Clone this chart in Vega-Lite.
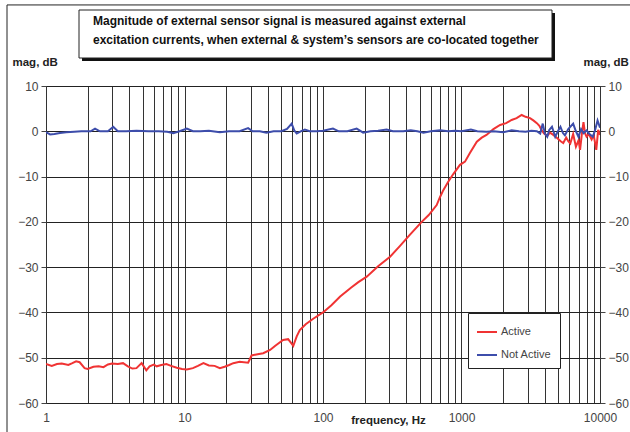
{
  "$schema": "https://vega.github.io/schema/vega-lite/v6.json",
  "width": 554,
  "height": 317,
  "autosize": "none",
  "padding": {"left": 46, "top": 86, "right": 30, "bottom": 29},
  "background": "white",
  "config": {
    "view": {"stroke": "#111", "strokeWidth": 1},
    "font": "Liberation Sans"
  },
  "datasets": {
    "curves": [
      {"f": 1, "db": -51.4, "series": "Active"},
      {"f": 1.1, "db": -51.8, "series": "Active"},
      {"f": 1.2, "db": -51.4, "series": "Active"},
      {"f": 1.3, "db": -51.3, "series": "Active"},
      {"f": 1.45, "db": -51.6, "series": "Active"},
      {"f": 1.55, "db": -51.2, "series": "Active"},
      {"f": 1.65, "db": -50.8, "series": "Active"},
      {"f": 1.75, "db": -51.0, "series": "Active"},
      {"f": 1.9, "db": -52.3, "series": "Active"},
      {"f": 2.0, "db": -52.5, "series": "Active"},
      {"f": 2.2, "db": -52.0, "series": "Active"},
      {"f": 2.4, "db": -51.9, "series": "Active"},
      {"f": 2.6, "db": -52.1, "series": "Active"},
      {"f": 2.8, "db": -51.5, "series": "Active"},
      {"f": 3.0, "db": -51.3, "series": "Active"},
      {"f": 3.3, "db": -51.4, "series": "Active"},
      {"f": 3.6, "db": -51.2, "series": "Active"},
      {"f": 3.9, "db": -51.9, "series": "Active"},
      {"f": 4.2, "db": -52.4, "series": "Active"},
      {"f": 4.5, "db": -52.3, "series": "Active"},
      {"f": 4.9, "db": -51.2, "series": "Active"},
      {"f": 5.3, "db": -52.8, "series": "Active"},
      {"f": 5.6, "db": -51.9, "series": "Active"},
      {"f": 6.0, "db": -51.5, "series": "Active"},
      {"f": 6.3, "db": -51.9, "series": "Active"},
      {"f": 6.8, "db": -51.6, "series": "Active"},
      {"f": 7.4, "db": -51.4, "series": "Active"},
      {"f": 8.0, "db": -51.8, "series": "Active"},
      {"f": 8.8, "db": -52.2, "series": "Active"},
      {"f": 9.6, "db": -52.5, "series": "Active"},
      {"f": 10.4, "db": -52.6, "series": "Active"},
      {"f": 11.5, "db": -52.3, "series": "Active"},
      {"f": 12.5, "db": -51.8, "series": "Active"},
      {"f": 13.7, "db": -51.2, "series": "Active"},
      {"f": 15, "db": -51.7, "series": "Active"},
      {"f": 16.5, "db": -51.8, "series": "Active"},
      {"f": 18, "db": -52.3, "series": "Active"},
      {"f": 19.5, "db": -52.0, "series": "Active"},
      {"f": 21, "db": -51.6, "series": "Active"},
      {"f": 22.5, "db": -51.2, "series": "Active"},
      {"f": 25, "db": -50.9, "series": "Active"},
      {"f": 28.8, "db": -51.1, "series": "Active"},
      {"f": 30.5, "db": -49.5, "series": "Active"},
      {"f": 33, "db": -49.3, "series": "Active"},
      {"f": 37, "db": -49.0, "series": "Active"},
      {"f": 41.5, "db": -48.3, "series": "Active"},
      {"f": 45, "db": -47.4, "series": "Active"},
      {"f": 51.5, "db": -46.1, "series": "Active"},
      {"f": 56, "db": -45.9, "series": "Active"},
      {"f": 59, "db": -46.8, "series": "Active"},
      {"f": 61, "db": -47.4, "series": "Active"},
      {"f": 64.6, "db": -45.3, "series": "Active"},
      {"f": 68, "db": -43.9, "series": "Active"},
      {"f": 75, "db": -42.6, "series": "Active"},
      {"f": 85, "db": -41.4, "series": "Active"},
      {"f": 100, "db": -40.0, "series": "Active"},
      {"f": 115, "db": -38.4, "series": "Active"},
      {"f": 133, "db": -36.5, "series": "Active"},
      {"f": 160, "db": -34.5, "series": "Active"},
      {"f": 180, "db": -33.3, "series": "Active"},
      {"f": 207, "db": -32.1, "series": "Active"},
      {"f": 250, "db": -29.8, "series": "Active"},
      {"f": 305, "db": -27.7, "series": "Active"},
      {"f": 360, "db": -25.3, "series": "Active"},
      {"f": 420, "db": -23.0, "series": "Active"},
      {"f": 516, "db": -20.0, "series": "Active"},
      {"f": 580, "db": -18.5, "series": "Active"},
      {"f": 662, "db": -16.3, "series": "Active"},
      {"f": 700, "db": -14.5, "series": "Active"},
      {"f": 739, "db": -13.0, "series": "Active"},
      {"f": 800, "db": -11.2, "series": "Active"},
      {"f": 870, "db": -9.5, "series": "Active"},
      {"f": 975, "db": -7.4, "series": "Active"},
      {"f": 1060, "db": -6.7, "series": "Active"},
      {"f": 1150, "db": -4.8, "series": "Active"},
      {"f": 1290, "db": -2.3, "series": "Active"},
      {"f": 1400, "db": -1.4, "series": "Active"},
      {"f": 1515, "db": -0.8, "series": "Active"},
      {"f": 1700, "db": 0.5, "series": "Active"},
      {"f": 1900, "db": 1.4, "series": "Active"},
      {"f": 2100, "db": 1.8, "series": "Active"},
      {"f": 2300, "db": 2.5, "series": "Active"},
      {"f": 2500, "db": 2.9, "series": "Active"},
      {"f": 2720, "db": 3.6, "series": "Active"},
      {"f": 2900, "db": 3.2, "series": "Active"},
      {"f": 3125, "db": 2.9, "series": "Active"},
      {"f": 3300, "db": 2.4, "series": "Active"},
      {"f": 3500, "db": 1.8, "series": "Active"},
      {"f": 3650, "db": 1.2, "series": "Active"},
      {"f": 3800, "db": 0.2, "series": "Active"},
      {"f": 3950, "db": -0.5, "series": "Active"},
      {"f": 4160, "db": -1.0, "series": "Active"},
      {"f": 4350, "db": -0.3, "series": "Active"},
      {"f": 4600, "db": -0.8, "series": "Active"},
      {"f": 4900, "db": -1.5, "series": "Active"},
      {"f": 5200, "db": -2.2, "series": "Active"},
      {"f": 5430, "db": -2.6, "series": "Active"},
      {"f": 5700, "db": -1.4, "series": "Active"},
      {"f": 5900, "db": -2.2, "series": "Active"},
      {"f": 6100, "db": -2.7, "series": "Active"},
      {"f": 6400, "db": -0.6, "series": "Active"},
      {"f": 6700, "db": -3.4, "series": "Active"},
      {"f": 7000, "db": -2.0, "series": "Active"},
      {"f": 7180, "db": -4.1, "series": "Active"},
      {"f": 7400, "db": -0.5, "series": "Active"},
      {"f": 7600, "db": 2.0, "series": "Active"},
      {"f": 7800, "db": -0.5, "series": "Active"},
      {"f": 8000, "db": -1.2, "series": "Active"},
      {"f": 8300, "db": -0.6, "series": "Active"},
      {"f": 8700, "db": -1.8, "series": "Active"},
      {"f": 9000, "db": -0.8, "series": "Active"},
      {"f": 9400, "db": -4.1, "series": "Active"},
      {"f": 9700, "db": 0.3, "series": "Active"},
      {"f": 10000, "db": -0.8, "series": "Active"},
      {"f": 1, "db": -0.2, "series": "Not Active"},
      {"f": 1.07, "db": -0.7, "series": "Not Active"},
      {"f": 1.15, "db": -0.6, "series": "Not Active"},
      {"f": 1.26, "db": -0.4, "series": "Not Active"},
      {"f": 1.4, "db": -0.2, "series": "Not Active"},
      {"f": 1.6, "db": -0.1, "series": "Not Active"},
      {"f": 1.8, "db": 0, "series": "Not Active"},
      {"f": 2.1, "db": 0, "series": "Not Active"},
      {"f": 2.26, "db": 0.6, "series": "Not Active"},
      {"f": 2.45, "db": 0, "series": "Not Active"},
      {"f": 2.8, "db": 0, "series": "Not Active"},
      {"f": 3.06, "db": 1.0, "series": "Not Active"},
      {"f": 3.3, "db": 0, "series": "Not Active"},
      {"f": 3.8, "db": 0, "series": "Not Active"},
      {"f": 4.5, "db": 0.1, "series": "Not Active"},
      {"f": 5.5, "db": 0, "series": "Not Active"},
      {"f": 6.5, "db": 0, "series": "Not Active"},
      {"f": 7.5, "db": -0.1, "series": "Not Active"},
      {"f": 8.3, "db": -0.4, "series": "Not Active"},
      {"f": 9.2, "db": 0, "series": "Not Active"},
      {"f": 10.4, "db": 0.6, "series": "Not Active"},
      {"f": 11.5, "db": 0, "series": "Not Active"},
      {"f": 13, "db": 0, "series": "Not Active"},
      {"f": 15, "db": 0.1, "series": "Not Active"},
      {"f": 18, "db": -0.2, "series": "Not Active"},
      {"f": 21, "db": 0, "series": "Not Active"},
      {"f": 25, "db": 0, "series": "Not Active"},
      {"f": 28.8, "db": 0.7, "series": "Not Active"},
      {"f": 31, "db": 0, "series": "Not Active"},
      {"f": 35, "db": 0, "series": "Not Active"},
      {"f": 39, "db": -0.3, "series": "Not Active"},
      {"f": 44, "db": 0, "series": "Not Active"},
      {"f": 50, "db": 0, "series": "Not Active"},
      {"f": 55, "db": 0.5, "series": "Not Active"},
      {"f": 59.4, "db": 1.7, "series": "Not Active"},
      {"f": 62, "db": 0.2, "series": "Not Active"},
      {"f": 64.6, "db": -0.5, "series": "Not Active"},
      {"f": 69, "db": 0, "series": "Not Active"},
      {"f": 74, "db": 0.4, "series": "Not Active"},
      {"f": 80, "db": 0, "series": "Not Active"},
      {"f": 90, "db": 0, "series": "Not Active"},
      {"f": 100, "db": 0.1, "series": "Not Active"},
      {"f": 118, "db": 0.6, "series": "Not Active"},
      {"f": 130, "db": 0, "series": "Not Active"},
      {"f": 150, "db": 0, "series": "Not Active"},
      {"f": 175, "db": 0.6, "series": "Not Active"},
      {"f": 195, "db": -0.3, "series": "Not Active"},
      {"f": 220, "db": 0, "series": "Not Active"},
      {"f": 250, "db": 0.1, "series": "Not Active"},
      {"f": 288, "db": 0.4, "series": "Not Active"},
      {"f": 320, "db": 0, "series": "Not Active"},
      {"f": 380, "db": 0, "series": "Not Active"},
      {"f": 430, "db": 0.2, "series": "Not Active"},
      {"f": 480, "db": 0, "series": "Not Active"},
      {"f": 531, "db": -0.3, "series": "Not Active"},
      {"f": 600, "db": 0, "series": "Not Active"},
      {"f": 700, "db": 0.2, "series": "Not Active"},
      {"f": 800, "db": 0, "series": "Not Active"},
      {"f": 900, "db": 0.1, "series": "Not Active"},
      {"f": 1000, "db": 0, "series": "Not Active"},
      {"f": 1170, "db": 0.4, "series": "Not Active"},
      {"f": 1300, "db": 0, "series": "Not Active"},
      {"f": 1515, "db": -0.1, "series": "Not Active"},
      {"f": 1700, "db": 0, "series": "Not Active"},
      {"f": 2000, "db": -0.2, "series": "Not Active"},
      {"f": 2300, "db": 0.2, "series": "Not Active"},
      {"f": 2600, "db": 0, "series": "Not Active"},
      {"f": 2900, "db": -0.1, "series": "Not Active"},
      {"f": 3200, "db": 0.1, "series": "Not Active"},
      {"f": 3500, "db": 0, "series": "Not Active"},
      {"f": 3700, "db": -0.5, "series": "Not Active"},
      {"f": 3860, "db": 1.7, "series": "Not Active"},
      {"f": 4000, "db": -0.5, "series": "Not Active"},
      {"f": 4160, "db": -1.2, "series": "Not Active"},
      {"f": 4300, "db": 0.3, "series": "Not Active"},
      {"f": 4500, "db": 1.0, "series": "Not Active"},
      {"f": 4750, "db": -1.2, "series": "Not Active"},
      {"f": 5000, "db": 0.2, "series": "Not Active"},
      {"f": 5180, "db": 1.0, "series": "Not Active"},
      {"f": 5400, "db": -0.4, "series": "Not Active"},
      {"f": 5580, "db": -0.9, "series": "Not Active"},
      {"f": 5900, "db": 0.5, "series": "Not Active"},
      {"f": 6400, "db": 1.7, "series": "Not Active"},
      {"f": 6700, "db": 0.0, "series": "Not Active"},
      {"f": 6990, "db": -1.2, "series": "Not Active"},
      {"f": 7300, "db": 0.5, "series": "Not Active"},
      {"f": 7600, "db": -0.4, "series": "Not Active"},
      {"f": 8000, "db": 0.2, "series": "Not Active"},
      {"f": 8400, "db": -0.6, "series": "Not Active"},
      {"f": 8880, "db": -1.2, "series": "Not Active"},
      {"f": 9200, "db": 0.2, "series": "Not Active"},
      {"f": 9600, "db": 2.4, "series": "Not Active"},
      {"f": 10000, "db": 0.8, "series": "Not Active"}
    ],
    "frame": [
      {"x1": 0.523, "x2": 0.523, "y1": 27.9, "y2": -67},
      {"x1": 0.523, "x2": 17000, "y1": 27.9, "y2": 27.9}
    ],
    "shadow": [{"x1": 1.82, "x2": 4732, "y1": 26.1, "y2": 15.5}],
    "box": [{"x1": 1.731, "x2": 4502, "y1": 26.78, "y2": 16.18}],
    "heading": [
      {"f": 2.185, "db": 24.3, "text": "Magnitude of external sensor signal is measured against external"},
      {"f": 2.185, "db": 20.1, "text": "excitation currents, when external & system’s sensors are co-located together"}
    ]
  },
  "resolve": {"axis": {"x": "independent", "y": "independent"}},
  "layer": [
    {
      "data": {"name": "curves"},
      "mark": {"type": "line", "strokeWidth": 2, "clip": true},
      "encoding": {
        "x": {
          "field": "f", "type": "quantitative",
          "scale": {"type": "log", "domain": [1, 10000], "nice": false},
          "axis": {
            "orient": "bottom",
            "values": [1,2,3,4,5,6,7,8,9,10,20,30,40,50,60,70,80,90,100,200,300,400,500,600,700,800,900,1000,2000,3000,4000,5000,6000,7000,8000,9000,10000],
            "format": "d",
            "labelExpr": "indexof([1,10,100,1000,10000], datum.value) >= 0 ? datum.label : ''",
            "labelOverlap": false,
            "labelFlush": false,
            "grid": true, "gridColor": "#333", "gridOpacity": 1, "gridWidth": 1,
            "ticks": false, "domain": false,
            "labelPadding": 9, "labelFontSize": 12, "labelColor": "#444",
            "title": "frequency, Hz",
            "titleX": 342, "titleY": 17,
            "titleAlign": "center", "titleBaseline": "middle",
            "titleFontSize": 11.5, "titleFontWeight": "bold", "titleColor": "#222"
          }
        },
        "y": {
          "field": "db", "type": "quantitative",
          "scale": {"domain": [-60, 10], "nice": false},
          "axis": {
            "orient": "left",
            "values": [-60,-50,-40,-30,-20,-10,0,10],
            "grid": true, "gridColor": "#222", "gridOpacity": 1, "gridWidth": 1,
            "domain": false, "tickColor": "#444", "tickSize": 5,
            "labelPadding": 3, "labelFontSize": 12, "labelColor": "#444",
            "title": "mag, dB", "titleAngle": 0, "titleX": -34, "titleY": -24,
            "titleAlign": "left", "titleBaseline": "middle",
            "titleFontSize": 11.5, "titleFontWeight": "bold", "titleColor": "#222"
          }
        },
        "color": {
          "field": "series", "type": "nominal",
          "scale": {"domain": ["Active", "Not Active"], "range": ["#f03333", "#3d4dab"]},
          "legend": {
            "orient": "none", "legendX": 422, "legendY": 227,
            "title": null,
            "strokeColor": "#222", "fillColor": "white", "padding": 8,
            "symbolType": "stroke", "symbolStrokeWidth": 2, "symbolSize": 400,
            "rowPadding": 7, "labelFontSize": 11, "labelColor": "#444",
            "labelOffset": 3, "cornerRadius": 0
          }
        }
      }
    },
    {
      "data": {"name": "frame"},
      "mark": {"type": "rule", "color": "#222", "strokeWidth": 1, "clip": false},
      "encoding": {
        "x": {"field": "x1", "type": "quantitative", "scale": {"type": "log", "domain": [1, 10000], "nice": false}, "axis": null},
        "x2": {"field": "x2"},
        "y": {"field": "y1", "type": "quantitative", "scale": {"domain": [-60, 10], "nice": false}, "axis": null},
        "y2": {"field": "y2"}
      }
    },
    {
      "data": {"name": "shadow"},
      "mark": {"type": "rect", "color": "#111", "clip": false},
      "encoding": {
        "x": {"field": "x1", "type": "quantitative", "scale": {"type": "log", "domain": [1, 10000], "nice": false}, "axis": null},
        "x2": {"field": "x2"},
        "y": {"field": "y1", "type": "quantitative", "scale": {"domain": [-60, 10], "nice": false}, "axis": null},
        "y2": {"field": "y2"}
      }
    },
    {
      "data": {"name": "box"},
      "mark": {"type": "rect", "fill": "white", "stroke": "#222", "strokeWidth": 1, "clip": false},
      "encoding": {
        "x": {"field": "x1", "type": "quantitative", "scale": {"type": "log", "domain": [1, 10000], "nice": false}, "axis": null},
        "x2": {"field": "x2"},
        "y": {"field": "y1", "type": "quantitative", "scale": {"domain": [-60, 10], "nice": false}, "axis": null},
        "y2": {"field": "y2"}
      }
    },
    {
      "data": {"name": "heading"},
      "mark": {"type": "text", "align": "left", "baseline": "middle", "fontSize": 12, "fontWeight": "bold", "color": "#111", "clip": false},
      "encoding": {
        "x": {"field": "f", "type": "quantitative", "scale": {"type": "log", "domain": [1, 10000], "nice": false}, "axis": null},
        "y": {"field": "db", "type": "quantitative", "scale": {"domain": [-60, 10], "nice": false},
          "axis": {
            "orient": "right",
            "values": [-60,-50,-40,-30,-20,-10,0,10],
            "grid": false, "domain": false, "tickColor": "#444", "tickSize": 5,
            "labelPadding": 3, "labelFontSize": 12, "labelColor": "#444",
            "title": "mag, dB", "titleAngle": 0, "titleX": -17, "titleY": -24,
            "titleAlign": "left", "titleBaseline": "middle",
            "titleFontSize": 11.5, "titleFontWeight": "bold", "titleColor": "#222"
          }
        },
        "text": {"field": "text"}
      }
    }
  ]
}
